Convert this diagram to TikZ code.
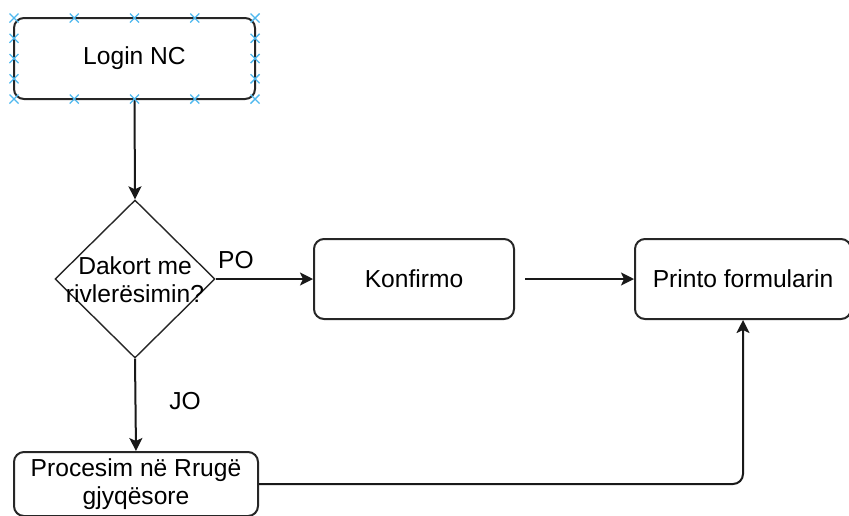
\documentclass[tikz,border=0pt]{standalone}
\usepackage{fontspec}
\setmainfont{Liberation Sans}
\usetikzlibrary{shapes.geometric,arrows.meta}
\definecolor{handle}{HTML}{4FB8EE}
\tikzset{
  box/.style={draw=black!85, line width=1pt, rounded corners=5pt, inner sep=0pt, align=center,
    font=\fontsize{12.3pt}{14pt}\selectfont},
  decision/.style={draw=black!85, line width=0.7pt, diamond, inner sep=0pt, minimum width=80pt, minimum height=79pt},
  txt/.style={inner sep=0pt, align=center, font=\fontsize{12.3pt}{14pt}\selectfont},
  conn/.style={draw=black!90, line width=1pt, -{Stealth[length=6.5pt,width=6.5pt,inset=1.5pt]}},
  hx/.style={draw=handle, line width=0.7pt}
}
\begin{document}
\begin{tikzpicture}[x=0.5pt,y=-0.5pt]
\useasboundingbox (0,0) rectangle (849,515);
\clip (0,0) rectangle (849,515);
\node[box, minimum width=120.5pt, minimum height=40.5pt] (login) at (134.5,58.5) {Login NC};
\node[decision] (dec) at (135,279) {};
\node[txt] (dectext) at (135,280) {Dakort me\\rivlerësimin?};
\node[box, minimum width=100pt, minimum height=40pt] (konf) at (414,279) {Konfirmo};
\node[box, minimum width=108pt, minimum height=40pt] (print) at (743,279) {Printo formularin};
\node[box, minimum width=122pt, minimum height=32pt] (proc) at (136,484) {Procesim në Rrugë\\gjyqësore};
\node[txt] (po) at (236,260) {PO};
\node[txt] (jo) at (185,401) {JO};
\draw[conn] (login.south) -- (dec.north);
\draw[conn] (dec.east) -- (konf.west);
\draw[conn] (dec.south) -- (proc.north);
\draw[conn, shorten <=5pt] (konf.east) -- (print.west);
\draw[conn, rounded corners=5pt] (proc.east) -| (print.south);
% selection handles
\foreach \x in {14,74.25,134.5,194.75,255} {
  \foreach \y in {18,99} {
    \draw[hx] (\x-4.5,\y-4.5) -- (\x+4.5,\y+4.5) (\x-4.5,\y+4.5) -- (\x+4.5,\y-4.5);
  }
}
\foreach \y in {38.25,58.5,78.75} {
  \foreach \x in {14,255} {
    \draw[hx] (\x-4.5,\y-4.5) -- (\x+4.5,\y+4.5) (\x-4.5,\y+4.5) -- (\x+4.5,\y-4.5);
  }
}
\end{tikzpicture}
\end{document}
